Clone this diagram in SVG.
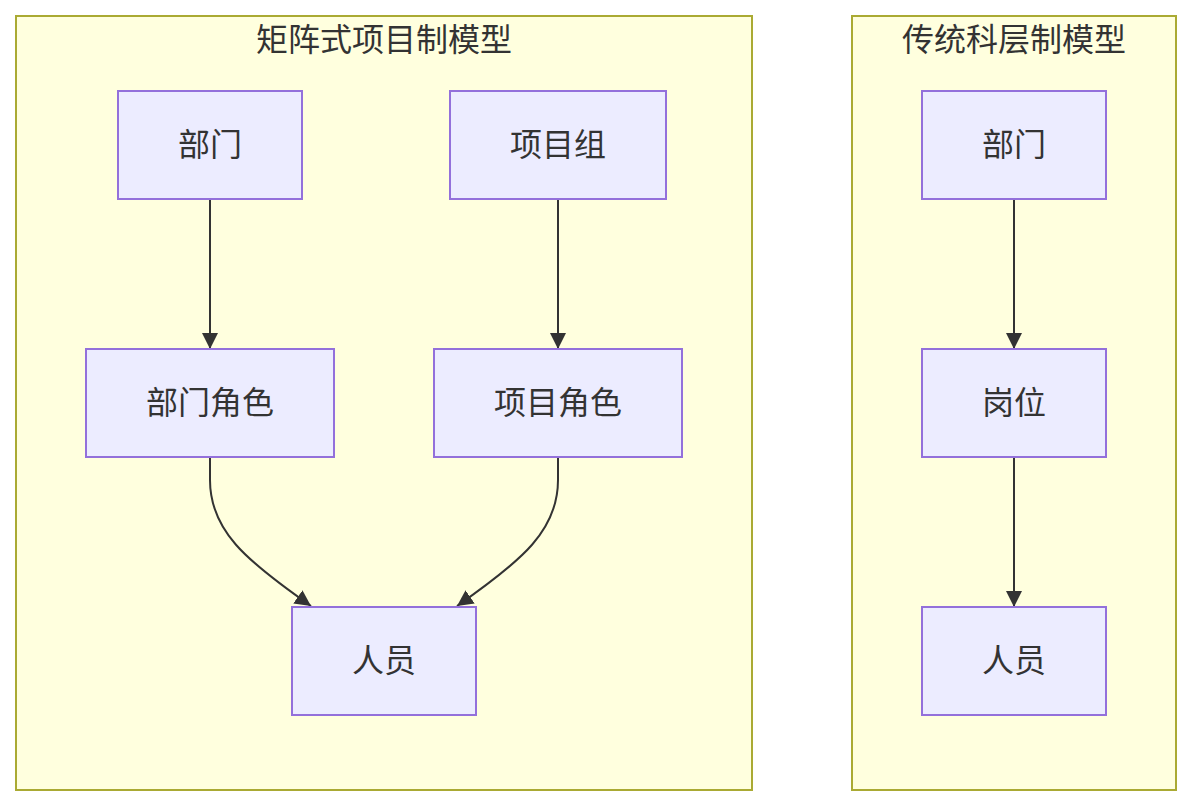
<svg xmlns="http://www.w3.org/2000/svg" width="1192" height="806" viewBox="0 0 1192 806">
<style>
.cluster rect{fill:#ffffde;stroke:#aaaa33;stroke-width:2}
.node rect{fill:#ececff;stroke:#9370db;stroke-width:2}
text{font-family:"Noto Sans CJK SC","Noto Sans",sans-serif;fill:#333333;text-anchor:middle;dominant-baseline:central}
.title{font-size:32px}
.label{font-size:32px}
.edge{fill:none;stroke:#333333;stroke-width:2}
</style>
<defs>
<marker id="arrow" viewBox="0 0 10 10" refX="10" refY="5" markerUnits="userSpaceOnUse" markerWidth="16" markerHeight="16" orient="auto">
<path d="M0,0 L10,5 L0,10 z" fill="#333333"/>
</marker>
</defs>
<rect width="1192" height="806" fill="#ffffff"/>
<g id="cluster-matrix" class="cluster">
<rect x="16" y="16" width="736" height="774"/>
<text class="title" x="384" y="37">矩阵式项目制模型</text>
</g>
<g id="cluster-traditional" class="cluster">
<rect x="852" y="16" width="324" height="774"/>
<text class="title" x="1014" y="37">传统科层制模型</text>
</g>
<g id="edges">
<path class="edge" d="M210,199 L210,349" marker-end="url(#arrow)"/>
<path class="edge" d="M558,199 L558,349" marker-end="url(#arrow)"/>
<path class="edge" d="M210,457 L210,480 C210,530 245,560 311,606" marker-end="url(#arrow)"/>
<path class="edge" d="M558,457 L558,480 C558,530 523,560 457,606" marker-end="url(#arrow)"/>
<path class="edge" d="M1014,199 L1014,349" marker-end="url(#arrow)"/>
<path class="edge" d="M1014,457 L1014,607" marker-end="url(#arrow)"/>
</g>
<g id="m-dept" class="node"><rect x="118" y="91" width="184" height="108"/><text class="label" x="210" y="142">部门</text></g>
<g id="m-project" class="node"><rect x="450" y="91" width="216" height="108"/><text class="label" x="558" y="142">项目组</text></g>
<g id="m-deptrole" class="node"><rect x="86" y="349" width="248" height="108"/><text class="label" x="210" y="400">部门角色</text></g>
<g id="m-projrole" class="node"><rect x="434" y="349" width="248" height="108"/><text class="label" x="558" y="400">项目角色</text></g>
<g id="m-person" class="node"><rect x="292" y="607" width="184" height="108"/><text class="label" x="384" y="658">人员</text></g>
<g id="t-dept" class="node"><rect x="922" y="91" width="184" height="108"/><text class="label" x="1014" y="142">部门</text></g>
<g id="t-post" class="node"><rect x="922" y="349" width="184" height="108"/><text class="label" x="1014" y="400">岗位</text></g>
<g id="t-person" class="node"><rect x="922" y="607" width="184" height="108"/><text class="label" x="1014" y="658">人员</text></g>
</svg>
